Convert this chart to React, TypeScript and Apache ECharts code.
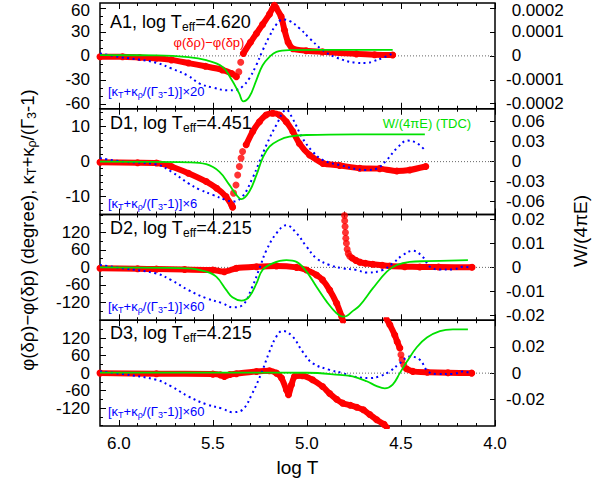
import { useEffect, useRef } from 'react';
import * as echarts from 'echarts';

const FONT = '"Liberation Sans", Arial, Helvetica, sans-serif';

// ---------- x axis (log T, reversed) ----------
const X_MIN = 4.0;
const X_MAX = 6.1;
const xTickValues = [4.0, 4.5, 5.0, 5.5, 6.0];
const xTickLabels = ['4.0', '4.5', '5.0', '5.5', '6.0'];

// ---------- Panel A1 ----------
const a1PhaseBand: any[] = [
  [6.10, -1], [5.98, -1], [5.89, -2], [5.80, -3], [5.72, -5], [5.63, -9], [5.54, -13], [5.45, -17.5], [5.40, -22], [5.375, -26],
  [5.36, null],
  [5.338, 3], [5.30, 17], [5.268, 28], [5.236, 39], [5.199, 52], [5.173, 63], [5.164, 60], [5.137, 49], [5.119, 32], [5.10, 17],
  [5.075, 9], [5.004, 6.5], [4.917, 5], [4.737, 2.5], [4.64, 1.5], [4.544, 1],
];
const a1PhaseDots: number[][] = [[5.362, -20], [5.352, -8]];
const a1Kappa: number[][] = [
  [6.10, 3], [5.98, -2], [5.892, -4.6], [5.80, -8.6], [5.72, -15.7], [5.63, -25], [5.57, -34.6], [5.50, -39.6], [5.42, -43],
  [5.37, -42], [5.341, -38], [5.306, -28], [5.27, -12], [5.235, 7], [5.20, 24], [5.164, 38.7], [5.128, 45.4], [5.093, 43.7],
  [5.04, 34.6], [4.986, 22], [4.915, 7], [4.844, -2], [4.737, -8.6], [4.682, -9], [4.65, -7], [4.597, -2.5], [4.544, 3],
];
const a1Work: number[][] = [
  [6.10, 0.000003], [5.80, 0.000002], [5.63, -0.000005], [5.535, -0.000018], [5.45, -0.000045], [5.40, -0.0001],
  [5.36, -0.000157], [5.338, -0.00019], [5.306, -0.000171], [5.268, -0.0001], [5.236, -0.00004], [5.199, -0.000004],
  [5.162, 0.000017], [5.093, 0.000024], [4.735, 0.000025], [4.544, 0.000025],
];

// ---------- Panel D1 ----------
const d1PhaseBand: any[] = [
  [6.10, -0.2], [5.90, -0.3], [5.80, -0.4], [5.72, -1.4], [5.63, -3.3], [5.535, -5.7], [5.48, -7.6], [5.43, -10], [5.40, -12.4], [5.395, -13],
  [5.36, null],
  [5.323, 4.8], [5.288, 8.6], [5.252, 11.4], [5.217, 13.3], [5.182, 13.8], [5.146, 13.3], [5.11, 11.4], [5.075, 8.6], [5.04, 5.2],
  [4.986, 1.9], [4.915, -0.5], [4.826, -1.1], [4.719, -1.9], [4.613, -2], [4.522, -2.7], [4.453, -2.4], [4.368, -1.4],
];
const d1PhaseDots: number[][] = [[5.39, -9], [5.377, -6.7], [5.368, -3.8], [5.359, -1.4], [5.35, 1], [5.342, 2.9]];
const d1Kappa: number[][] = [
  [6.10, 1], [5.98, 0], [5.80, -0.8], [5.72, -2.9], [5.63, -6.2], [5.57, -8], [5.50, -9.5], [5.43, -11], [5.396, -11.4],
  [5.343, -10], [5.29, -4.8], [5.252, 0], [5.215, 4.8], [5.162, 10.5], [5.109, 14.8], [5.077, 12.4], [5.023, 6.7],
  [4.97, 2.9], [4.917, 0.5], [4.826, -1], [4.682, -2.4], [4.629, -2], [4.575, 0.5], [4.522, 3.8], [4.464, 6], [4.416, 5.3], [4.373, 3.3],
];
const d1Work: number[][] = [
  [6.10, 0], [5.63, -0.001], [5.535, -0.0039], [5.466, -0.015], [5.412, -0.035], [5.375, -0.05], [5.348, -0.0565],
  [5.306, -0.045], [5.268, -0.02], [5.236, 0.005], [5.199, 0.0225], [5.146, 0.0325], [5.093, 0.0375], [5.002, 0.04],
  [4.735, 0.041], [4.373, 0.041],
];

// ---------- Panel D2 ----------
const d2PhaseBand: any[] = [
  [6.10, -3], [5.90, -4.5], [5.80, -6], [5.65, -7.5], [5.50, -9], [5.439, -15], [5.375, -3], [5.268, 2], [5.162, 4.6],
  [5.055, 0], [5.002, -9], [4.949, -26], [4.917, -43], [4.879, -78], [4.842, -123], [4.815, -169], [4.808, -185],
  [4.78, null],
  [4.76, 32], [4.74, 24], [4.719, 18], [4.69, 14], [4.65, 11], [4.60, 7], [4.559, 4.5], [4.48, 2.5], [4.40, 1.5], [4.30, 1], [4.122, 0.5],
];
const d2PhaseDots: number[][] = [
  [4.800, 178], [4.799, 160], [4.797, 140], [4.795, 120], [4.793, 100], [4.790, 83], [4.786, 62], [4.780, 48], [4.772, 38],
];
const d2Kappa: number[][] = [
  [6.10, 8], [5.98, -3], [5.80, -21], [5.72, -44], [5.63, -78], [5.535, -106], [5.45, -123], [5.396, -137], [5.343, -130],
  [5.29, -66], [5.252, -3], [5.215, 59], [5.162, 117], [5.109, 145], [5.055, 117], [5.002, 71], [4.949, 31], [4.879, 8],
  [4.81, -3], [4.735, -9], [4.682, -18], [4.597, -9], [4.544, 14], [4.49, 42], [4.437, 57], [4.384, 36], [4.346, 2],
  [4.293, -7], [4.224, -7], [4.17, 2], [4.133, 0],
];
const d2Work: number[][] = [
  [6.10, 0], [5.63, -0.0004], [5.535, -0.0018], [5.482, -0.0039], [5.428, -0.0095], [5.396, -0.0125], [5.348, -0.0139],
  [5.306, -0.0122], [5.268, -0.0067], [5.236, -0.0011], [5.183, 0.0017], [5.109, 0.003], [5.055, 0.0023], [5.002, -0.0018],
  [4.949, -0.0081], [4.895, -0.0143], [4.842, -0.0192], [4.81, -0.0206], [4.789, -0.0203], [4.76, -0.0185], [4.72, -0.016],
  [4.65, -0.0088], [4.575, -0.0018], [4.522, 0.001], [4.453, 0.0023], [4.362, 0.0026], [4.144, 0.003],
];

// ---------- Panel D3 ----------
const d3PhaseBand: any[] = [
  [6.10, 0], [5.80, -2], [5.50, -3.4], [5.46, -6], [5.439, -11.6], [5.41, -5], [5.375, -2], [5.268, 5.7], [5.199, 8],
  [5.162, 0], [5.135, -17], [5.109, -57], [5.098, -74], [5.082, -40], [5.066, -12], [5.023, -9], [4.97, -23], [4.917, -46],
  [4.879, -70], [4.842, -90], [4.81, -103], [4.77, -110], [4.735, -117], [4.70, -126], [4.666, -142], [4.629, -160],
  [4.59, -176], [4.575, -186],
  [4.576, null],
  [4.577, 186], [4.559, 166], [4.533, 131], [4.52, 108], [4.506, 86],
  [4.49, null],
  [4.471, 15], [4.437, 6], [4.36, 3], [4.25, 1], [4.124, 0],
];
const d3PhaseDots: number[][] = [[4.50, 63], [4.494, 46], [4.485, 28]];
const d3Kappa: number[][] = [
  [6.10, 6], [5.98, -3], [5.80, -23], [5.72, -46], [5.63, -80], [5.535, -107], [5.45, -122], [5.396, -134], [5.343, -126],
  [5.29, -69], [5.242, 0], [5.199, 74], [5.162, 126], [5.13, 145], [5.077, 126], [5.023, 74], [4.97, 34], [4.879, 11],
  [4.81, 0], [4.757, -11], [4.666, -17], [4.613, -11], [4.559, 6], [4.506, 34], [4.453, 57], [4.40, 46], [4.357, 6],
  [4.309, -3], [4.224, -3], [4.17, 6], [4.133, 0],
];
const d3Work: number[][] = [
  [6.10, 0.0004], [5.40, 0.0004], [5.0, 0.0003], [4.826, -0.0013], [4.757, -0.0025], [4.682, -0.0062], [4.629, -0.0099],
  [4.586, -0.0116], [4.544, -0.0087], [4.506, 0], [4.469, 0.0086], [4.416, 0.0197], [4.362, 0.0271], [4.293, 0.032],
  [4.224, 0.0333], [4.144, 0.0333],
];

// ---------- panel meta ----------
const panelNames = ['A1', 'D1', 'D2', 'D3'];
const panelTeff = ['4.620', '4.451', '4.215', '4.215'];
const kappaFactors = ['20', '6', '60', '60'];
const leftRanges = [[-66, 66], [-15.1, 15.1], [-181.5, 181.5], [-181.5, 181.5]];
const leftTicks = [[-60, -30, 0, 30, 60], [-10, 0, 10], [-120, -60, 0, 60, 120], [-120, -60, 0, 60, 120]];
const leftMinorStep = [10, 2, 30, 30];
const rightRanges = [[-0.000221, 0.000221], [-0.0795, 0.0795], [-0.0221, 0.0221], [-0.0403, 0.0403]];
const rightTicks = [
  [-0.0002, -0.0001, 0, 0.0001, 0.0002],
  [-0.06, -0.03, 0, 0.03, 0.06],
  [-0.02, -0.01, 0, 0.01, 0.02],
  [-0.02, 0, 0.02],
];
const phaseBands = [a1PhaseBand, d1PhaseBand, d2PhaseBand, d3PhaseBand];
const phaseDots = [a1PhaseDots, d1PhaseDots, d2PhaseDots, d3PhaseDots];
const kappas = [a1Kappa, d1Kappa, d2Kappa, d3Kappa];
const works = [a1Work, d1Work, d2Work, d3Work];

// layout
const GRID_TOP = [3, 108.75, 214.5, 320.25];
const GRID_H = [105.75, 105.75, 105.75, 105.75];
const GRID_LEFT = 100;
const GRID_RIGHT = 110;
const TITLE_Y = [21.7, 123.3, 228.3, 333.3];
const KAPPA_LABEL_Y = [91.7, 203, 306.7, 411.7];

const RED = '#ff0000';
const BLUE = '#0000ff';
const GREEN = '#00e000';

function stepValues(min: number, max: number, step: number, exclude: number[]): number[] {
  const out: number[] = [];
  const start = Math.ceil(min / step - 1e-9);
  const end = Math.floor(max / step + 1e-9);
  for (let k = start; k <= end; k++) {
    const v = Math.round(k * step * 1000) / 1000;
    if (!exclude.some((e) => Math.abs(e - v) < 1e-9)) out.push(v);
  }
  return out;
}

function buildOption(): any {
  const grid: any[] = [];
  const xAxis: any[] = [];
  const yAxis: any[] = [];
  const series: any[] = [];
  const xMinor = stepValues(X_MIN, 6.0, 0.1, xTickValues);
  const labelRich = {
    t: { fontSize: 17, fontFamily: FONT, color: '#000', padding: [5, 0, 0, 0] },
  };

  for (let i = 0; i < 4; i++) {
    grid.push({
      left: GRID_LEFT, right: GRID_RIGHT, top: GRID_TOP[i], height: GRID_H[i],
      show: true, borderColor: '#000', borderWidth: 1.5, backgroundColor: 'transparent',
      containLabel: false, outerBoundsMode: 'none',
    });
    const xBase = {
      type: 'value', gridIndex: i, min: X_MIN, max: X_MAX, inverse: true,
      axisLine: { show: false, onZero: false }, splitLine: { show: false },
    };
    for (const pos of ['bottom', 'top']) {
      xAxis.push({
        ...xBase, position: pos,
        axisTick: { show: true, inside: true, length: 6, lineStyle: { color: '#000', width: 1 }, customValues: xTickValues },
        axisLabel: {
          show: i === 3 && pos === 'bottom', customValues: xTickValues,
          formatter: (v: number) => xTickLabels[xTickValues.findIndex((t) => Math.abs(t - v) < 1e-6)] ?? String(v),
          fontSize: 17, fontFamily: FONT, color: '#000', margin: 9,
        },
      });
      xAxis.push({
        ...xBase, position: pos,
        axisTick: { show: true, inside: true, length: 3, lineStyle: { color: '#000', width: 1 }, customValues: xMinor },
        axisLabel: { show: false },
      });
    }
    const [lmin, lmax] = leftRanges[i];
    const [rmin, rmax] = rightRanges[i];
    const lTop = leftTicks[i][leftTicks[i].length - 1];
    const rTop = rightTicks[i][rightTicks[i].length - 1];
    yAxis.push({
      type: 'value', gridIndex: i, position: 'left', min: lmin, max: lmax,
      axisLine: { show: false, onZero: false }, splitLine: { show: false },
      axisTick: { show: true, inside: true, length: 6, lineStyle: { color: '#000', width: 1 }, customValues: leftTicks[i] },
      axisLabel: {
        show: true, customValues: leftTicks[i],
        formatter: (v: number) => (i === 0 && v === lTop ? `{t|${v}}` : String(v)),
        rich: labelRich,
        fontSize: 17, fontFamily: FONT, color: '#000', margin: 10,
      },
    });
    yAxis.push({
      type: 'value', gridIndex: i, position: 'left', min: lmin, max: lmax,
      axisLine: { show: false, onZero: false }, splitLine: { show: false },
      axisTick: {
        show: true, inside: true, length: 3, lineStyle: { color: '#000', width: 1 },
        customValues: stepValues(lmin, lmax, leftMinorStep[i], leftTicks[i]),
      },
      axisLabel: { show: false },
    });
    yAxis.push({
      type: 'value', gridIndex: i, position: 'right', min: rmin, max: rmax,
      axisLine: { show: false, onZero: false }, splitLine: { show: false },
      axisTick: { show: true, inside: true, length: 5, lineStyle: { color: '#000', width: 1 }, customValues: rightTicks[i] },
      axisLabel: {
        show: true, customValues: rightTicks[i],
        formatter: (v: number) => {
          const s = (v < 0 ? '' : '\u2004') + String(v);
          return i === 0 && v === rTop ? `{t|${s}}` : s;
        },
        rich: labelRich,
        fontSize: 17, fontFamily: FONT, color: '#000', margin: 11,
      },
    });

    const xi = i * 4;
    const yl = i * 3;
    const yr = i * 3 + 2;
    series.push({
      type: 'line', xAxisIndex: xi, yAxisIndex: yl, data: [[X_MIN, 0], [X_MAX, 0]],
      symbol: 'none', silent: true, z: 1,
      lineStyle: { color: '#666', width: 1, type: [1, 2] },
    });
    series.push({
      type: 'line', xAxisIndex: xi, yAxisIndex: yl, data: phaseBands[i],
      smooth: 0.2, connectNulls: false, showSymbol: true, showAllSymbol: true, symbol: 'circle', symbolSize: 7,
      itemStyle: { color: RED }, lineStyle: { color: RED, width: 6, cap: 'round', join: 'round' }, z: 2,
    });
    series.push({
      type: 'scatter', xAxisIndex: xi, yAxisIndex: yl, data: phaseDots[i],
      symbol: 'circle', symbolSize: 7, itemStyle: { color: RED }, z: 2,
    });
    series.push({
      type: 'line', xAxisIndex: xi, yAxisIndex: yl, data: kappas[i],
      smooth: 0.4, showSymbol: false,
      lineStyle: { color: BLUE, width: 2, type: [2, 3.5] }, z: 3,
    });
    series.push({
      type: 'line', xAxisIndex: xi, yAxisIndex: yr, data: works[i],
      smooth: 0.4, showSymbol: false,
      lineStyle: { color: GREEN, width: 1.8 }, z: 4,
    });
  }

  const graphic: any[] = [];
  for (let i = 0; i < 4; i++) {
    graphic.push({
      type: 'text', x: 110, y: TITLE_Y[i], z: 10,
      style: {
        text: `${panelNames[i]}, log T{s|eff}=${panelTeff[i]}`,
        fontSize: 18, fontFamily: FONT, fill: '#000', align: 'left', verticalAlign: 'middle',
        rich: { s: { fontSize: 12, fontFamily: FONT, fill: '#000', padding: [10, 0, 0, 0] } },
      },
    });
    graphic.push({
      type: 'text', x: 108, y: KAPPA_LABEL_Y[i], z: 10,
      style: {
        text: `[κ{s|T}+κ{s|ρ}/(Γ{s|3}-1)]×${kappaFactors[i]}`,
        fontSize: 13, fontFamily: FONT, fill: BLUE, align: 'left', verticalAlign: 'middle',
        rich: { s: { fontSize: 9, fontFamily: FONT, fill: BLUE, padding: [7, 0, 0, 0] } },
      },
    });
  }
  graphic.push({
    type: 'text', x: 209, y: 42.5, z: 10,
    style: { text: 'φ(δρ)−φ(δp)', fontSize: 13, fontFamily: FONT, fill: RED, align: 'center', verticalAlign: 'middle' },
  });
  graphic.push({
    type: 'text', x: 427, y: 123.3, z: 10,
    style: { text: 'W/(4πE) (TDC)', fontSize: 13, fontFamily: FONT, fill: GREEN, align: 'center', verticalAlign: 'middle' },
  });
  graphic.push({
    type: 'text', x: 297.5, y: 467, z: 10,
    style: { text: 'log T', fontSize: 19, fontFamily: FONT, fill: '#000', align: 'center', verticalAlign: 'middle' },
  });
  graphic.push({
    type: 'text', x: 27, y: 230, rotation: Math.PI / 2, z: 10,
    style: {
      text: 'φ(δρ)−φ(δp) (degree), κ{s|T}+κ{s|ρ}/(Γ{s|3}-1)',
      fontSize: 18.5, fontFamily: FONT, fill: '#000', align: 'center', verticalAlign: 'middle',
      rich: { s: { fontSize: 12.5, fontFamily: FONT, fill: '#000', padding: [9, 0, 0, 0] } },
    },
  });
  graphic.push({
    type: 'text', x: 580, y: 231, rotation: Math.PI / 2, z: 10,
    style: { text: 'W/(4πE)', fontSize: 19, fontFamily: FONT, fill: '#000', align: 'center', verticalAlign: 'middle' },
  });

  return { animation: false, backgroundColor: '#fff', grid, xAxis, yAxis, series, graphic };
}

export default function App() {
  const ref = useRef<HTMLDivElement>(null);
  useEffect(() => {
    const chart = echarts.init(ref.current!, null, { renderer: 'svg' });
    chart.setOption(buildOption());
    return () => chart.dispose();
  }, []);
  return <div ref={ref} style={{ position: 'fixed', left: 0, top: 0, width: 605, height: 486 }} />;
}
